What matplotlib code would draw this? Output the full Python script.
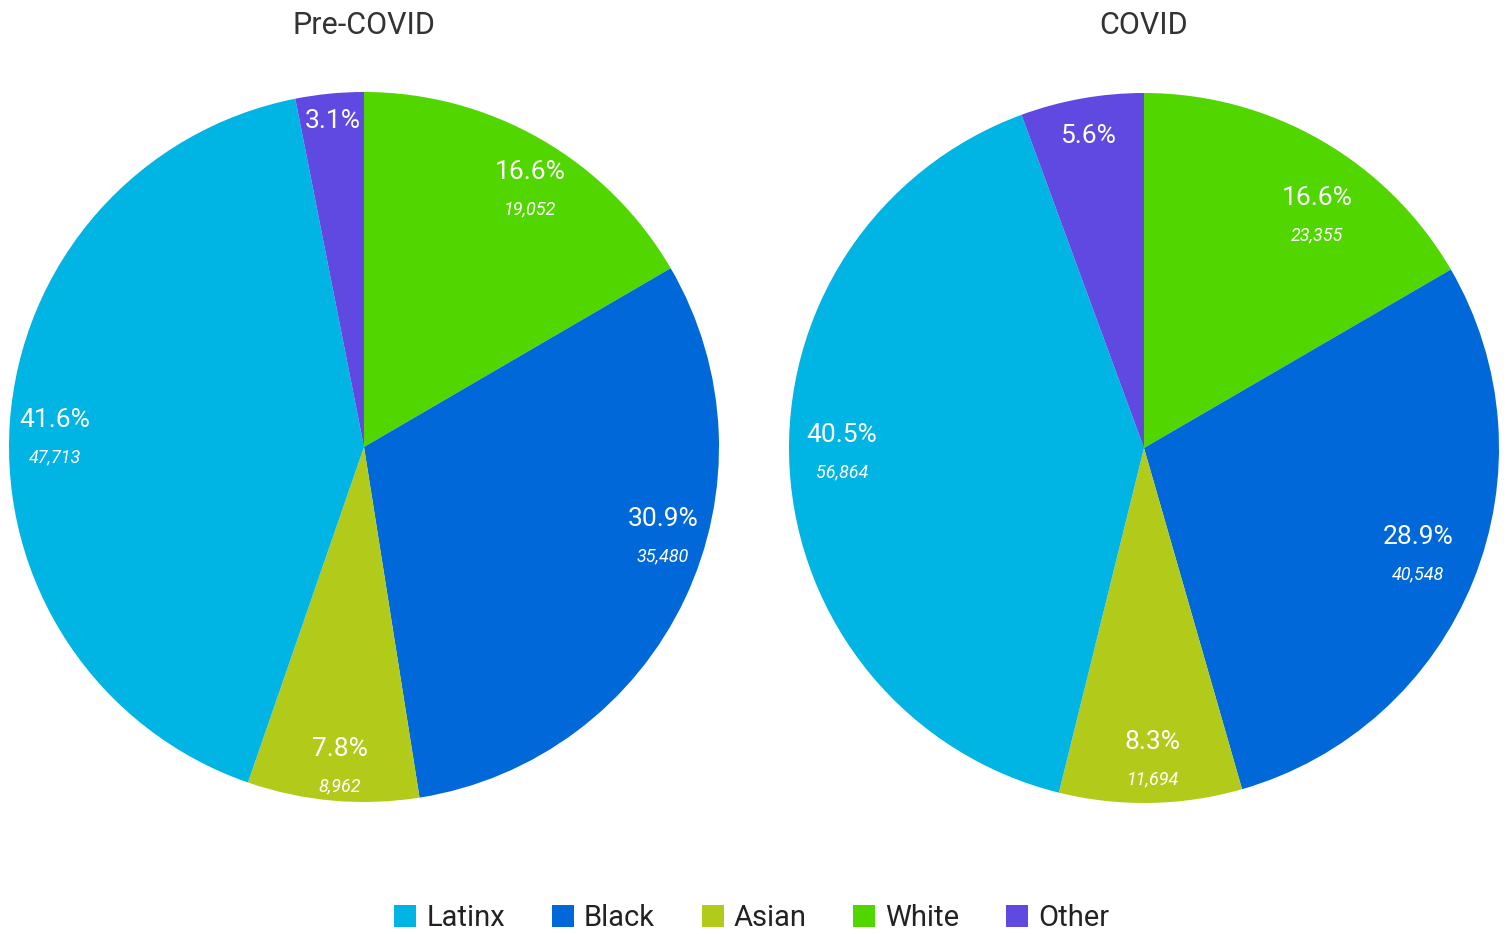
import matplotlib
matplotlib.use("Agg")
from matplotlib import pyplot as plt
from matplotlib.patches import Patch

plt.rcParams['font.family'] = ['Roboto', 'DejaVu Sans']

# Slice order as drawn (clockwise from 12 o'clock)
groups = ['White', 'Black', 'Asian', 'Latinx', 'Other']
colors = ['#52D600', '#0068D9', '#B2CB1A', '#00B4E4', '#5F49E0']

pre_pct = [16.6, 30.9, 7.8, 41.6, 3.1]
pre_counts = ['19,052', '35,480', '8,962', '47,713', None]
covid_pct = [16.6, 28.9, 8.3, 40.5, 5.6]
covid_counts = ['23,355', '40,548', '11,694', '56,864', None]

legend_order = ['Latinx', 'Black', 'Asian', 'White', 'Other']

# label anchor points (fraction of radius), hand placed like the original
pre_pos = [(0.468, 0.724), (0.842, -0.254), (-0.068, -0.901), (-0.870, 0.025), (-0.087, 0.918)]
covid_pos = [(0.487, 0.654), (0.772, -0.301), (0.025, -0.879), (-0.851, -0.014), (-0.158, 0.879)]

W, H = 1507, 934
fig = plt.figure(figsize=(W / 100, H / 100), dpi=100)
fig.patch.set_facecolor('white')

def draw_pie(cx, cy, r, title, pct, counts, pos):
    ax = fig.add_axes([(cx - r) / W, (H - cy - r) / H, 2 * r / W, 2 * r / H])
    ax.pie(pct, colors=colors, startangle=90, counterclock=False, radius=1,
           wedgeprops=dict(linewidth=0))
    ax.set_xlim(-1, 1)
    ax.set_ylim(-1, 1)
    ax.set_axis_off()
    for p, c, (x, y) in zip(pct, counts, pos):
        if c is None:
            ax.text(x, y, '%.1f%%' % p, color='white', fontsize=19,
                    ha='center', va='center')
        else:
            ax.text(x, y + 0.05, '%.1f%%' % p, color='white', fontsize=19,
                    ha='center', va='center')
            ax.text(x, y - 0.055, c, color='white', fontsize=13, style='italic',
                    ha='center', va='center')
    fig.text(cx / W, 1 - 26 / H, title, fontsize=22, color='#333333',
             ha='center', va='center')

draw_pie(364, 447, 355, 'Pre-COVID', pre_pct, pre_counts, pre_pos)
draw_pie(1144, 448, 355, 'COVID', covid_pct, covid_counts, covid_pos)

handles = [Patch(facecolor=colors[groups.index(g)], edgecolor='none') for g in legend_order]
fig.legend(handles, legend_order, loc='center', bbox_to_anchor=(752 / W, 1 - 918 / H),
           ncol=5, frameon=False, fontsize=21, handlelength=0.75, handleheight=0.75,
           handletextpad=0.35, columnspacing=1.6, labelcolor='#222222')

fig.savefig('out.png', dpi=100, facecolor='white')
